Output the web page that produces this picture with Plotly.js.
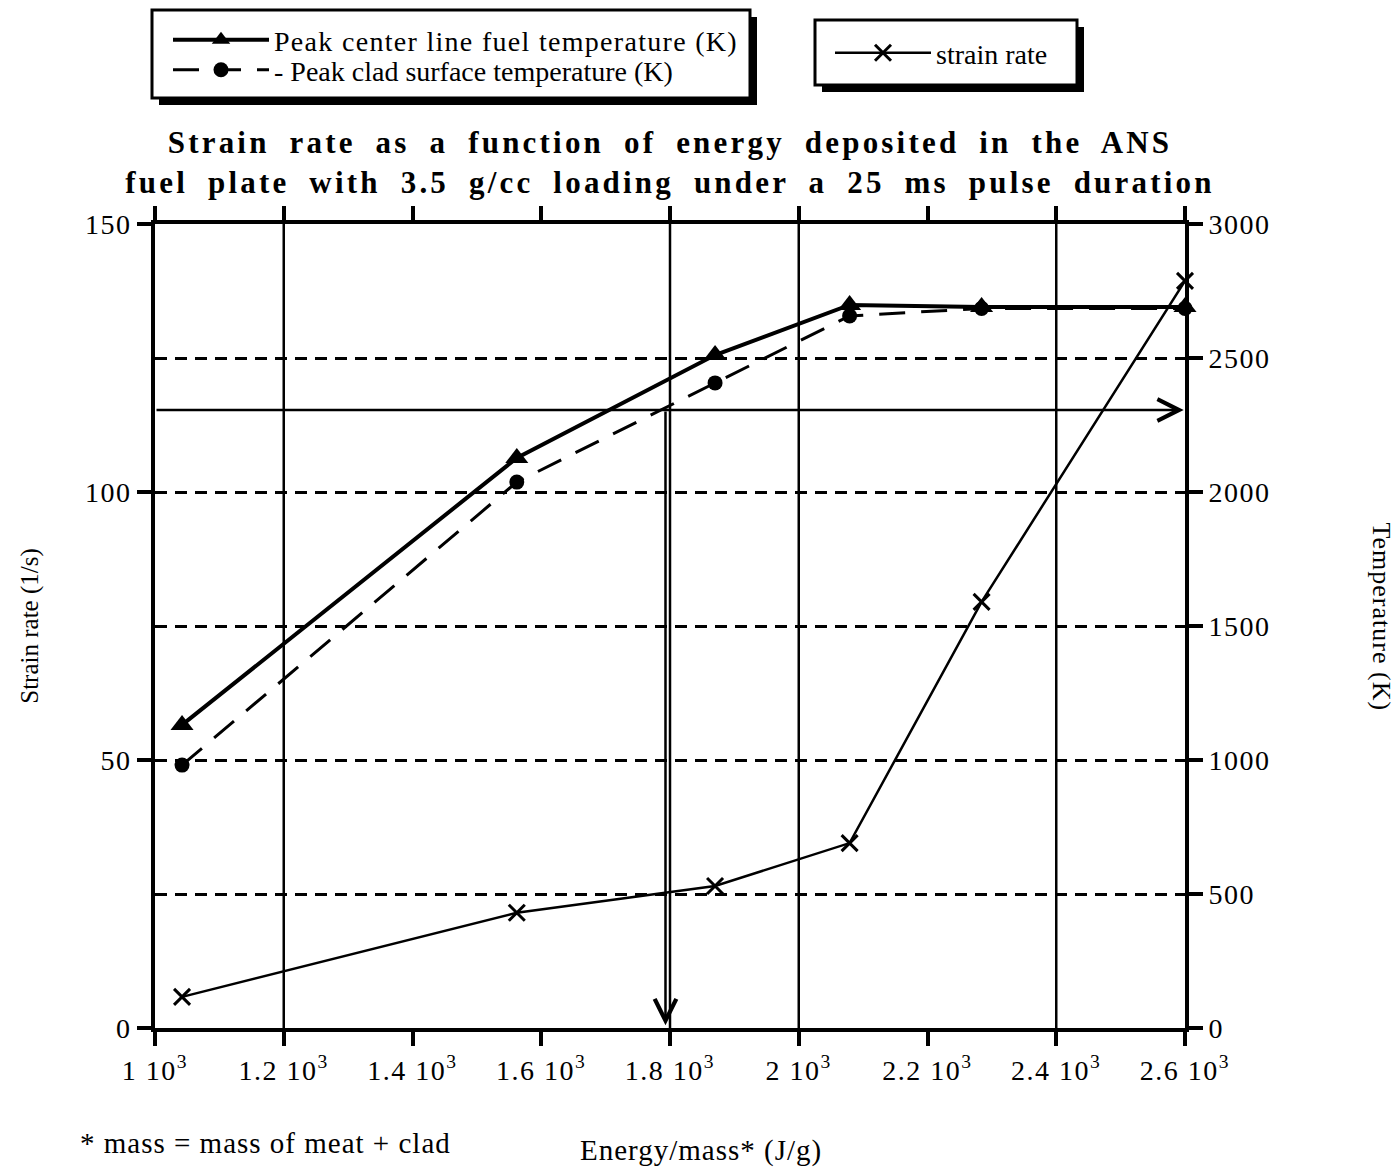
<!DOCTYPE html>
<html>
<head>
<meta charset="utf-8">
<script src="https://cdn.plot.ly/plotly-3.0.1.min.js"></script>
<style>
  html, body { margin: 0; padding: 0; background: #fff; }
  #chart { width: 1399px; height: 1169px; }
  .gtitle { letter-spacing: 3.2px; word-spacing: 9px; }
  .legendtext { letter-spacing: 1.3px; }
  .xtick text, .ytick text, .y2tick text { letter-spacing: 1.5px; }
  .annotation-text { letter-spacing: 1px; }
</style>
</head>
<body>
<div id="chart"></div>
<script>
// ---- data ----
const energy = [1042, 1562, 1870, 2079, 2284, 2600];            // J/g
const strainRate = [5.8, 21.5, 26.5, 34.5, 79.5, 139.4];         // 1/s
const centerTemp = [1131, 2127, 2511, 2698, 2690, 2690];          // K
const cladTemp = [981, 2037, 2407, 2657, 2685, 2685];             // K

const xTickVals = [1000, 1200, 1400, 1600, 1800, 2000, 2200, 2400, 2600];
const xTickText = ['1 10<sup>3</sup>', '1.2 10<sup>3</sup>', '1.4 10<sup>3</sup>', '1.6 10<sup>3</sup>',
  '1.8 10<sup>3</sup>', '2 10<sup>3</sup>', '2.2 10<sup>3</sup>', '2.4 10<sup>3</sup>', '2.6 10<sup>3</sup>'];
const yTickVals = [0, 50, 100, 150];
const y2TickVals = [0, 500, 1000, 1500, 2000, 2500, 3000];
const vGridAt = [1200, 1800, 2000, 2400];

// reading marked on the chart: energy for 2300 K (strain-axis level)
const markTempStrainLevel = 115.3;
const markEnergy = 1793;

const FONT = 'Liberation Serif, Times New Roman, serif';

// plot area in pixels (for placing the boxes drawn as shapes)
const PL = 155, PR = 1185, PT = 224, PB = 1028;
const px = v => (v - PL) / (PR - PL);
const py = v => (PB - v) / (PB - PT);

const traces = [
  {
    x: energy, y: cladTemp, yaxis: 'y2', name: '- Peak clad surface temperature (K)',
    mode: 'lines+markers', legend: 'legend3',
    line: { color: '#000', width: 3, dash: '26px,16px' },
    marker: { symbol: 'circle', size: 15, color: '#000' },
    cliponaxis: false
  },
  {
    x: energy, y: centerTemp, yaxis: 'y2', name: 'Peak center line fuel temperature (K)',
    mode: 'lines+markers', legend: 'legend',
    line: { color: '#000', width: 4 },
    marker: { symbol: 'triangle-up', size: 20, color: '#000' },
    cliponaxis: false
  },
  {
    x: energy, y: strainRate, yaxis: 'y', name: 'strain rate',
    mode: 'lines+markers', legend: 'legend2',
    line: { color: '#000', width: 2.5 },
    marker: { symbol: 'x-thin', size: 16, color: '#000', line: { color: '#000', width: 3 } },
    cliponaxis: false
  }
];

const shapes = [];
// legend boxes with drop shadows
function box(x0, y0, x1, y1, off) {
  shapes.push({ type: 'rect', xref: 'paper', yref: 'paper', layer: 'below',
    x0: px(x0 + off), x1: px(x1 + off), y0: py(y0 + off), y1: py(y1 + off),
    fillcolor: '#000', line: { width: 0 } });
  shapes.push({ type: 'rect', xref: 'paper', yref: 'paper', layer: 'below',
    x0: px(x0), x1: px(x1), y0: py(y0), y1: py(y1),
    fillcolor: '#fff', line: { color: '#000', width: 3 } });
}
box(152, 10, 750, 98, 7);
box(815, 20, 1077, 85, 7);

// selected vertical grid lines
vGridAt.forEach(v => shapes.push({
  type: 'line', xref: 'x', yref: 'paper', x0: v, x1: v, y0: 0, y1: 1,
  layer: 'below', line: { color: '#000', width: 2.5 }
}));

const annotations = [
  // horizontal reading arrow
  { xref: 'x', yref: 'y', axref: 'x', ayref: 'y', x: 2598, y: markTempStrainLevel,
    ax: 1000, ay: markTempStrainLevel, text: '', showarrow: true,
    arrowhead: 5, arrowsize: 1.7, arrowwidth: 2.5, arrowcolor: '#000' },
  // vertical reading arrow
  { xref: 'x', yref: 'y', axref: 'x', ayref: 'y', x: markEnergy, y: 0.5,
    ax: markEnergy, ay: markTempStrainLevel, text: '', showarrow: true,
    arrowhead: 5, arrowsize: 1.7, arrowwidth: 2.5, arrowcolor: '#000' },
  // right axis title
  { xref: 'paper', yref: 'paper', x: px(1398), y: py(617), text: 'Temperature (K)',
    textangle: 90, showarrow: false, font: { family: FONT, size: 26, color: '#000' } },
  // x axis title
  { xref: 'paper', yref: 'paper', x: px(701), y: py(1150), xanchor: 'center', yanchor: 'middle',
    text: 'Energy/mass* (J/g)', showarrow: false,
    font: { family: FONT, size: 29, color: '#000' } },
  // footnote
  { xref: 'paper', yref: 'paper', x: px(78), y: py(1143), xanchor: 'left', yanchor: 'middle',
    text: '* mass = mass of meat + clad', showarrow: false,
    font: { family: FONT, size: 29, color: '#000' } }
];

const legendFont = { family: FONT, size: 28, color: '#000' };
const layout = {
  width: 1399, height: 1169,
  paper_bgcolor: '#fff', plot_bgcolor: '#fff',
  margin: { l: PL, r: 1399 - PR, t: PT, b: 1169 - PB },
  font: { family: FONT, size: 26, color: '#000' },
  title: {
    text: 'Strain rate as a function of energy deposited in the ANS<br>fuel plate with 3.5 g/cc loading under a 25 ms pulse duration',
    font: { family: FONT, size: 31, weight: 'bold', color: '#000' },
    x: 0.5, xref: 'paper', xanchor: 'center',
    y: 1 - 153 / 1169, yref: 'container', yanchor: 'top'
  },
  showlegend: true,
  legend: {
    x: px(168), y: py(15), xanchor: 'left', yanchor: 'top',
    bgcolor: 'rgba(0,0,0,0)', borderwidth: 0, itemwidth: 96, font: legendFont
  },
  legend3: {
    x: px(168), y: py(45), xanchor: 'left', yanchor: 'top',
    bgcolor: 'rgba(0,0,0,0)', borderwidth: 0, itemwidth: 96, font: legendFont
  },
  legend2: {
    x: px(830), y: py(28), xanchor: 'left', yanchor: 'top',
    bgcolor: 'rgba(0,0,0,0)', borderwidth: 0, itemwidth: 96, font: legendFont
  },
  xaxis: {
    range: [1000, 2600], tickvals: xTickVals, ticktext: xTickText,
    ticks: 'outside', ticklen: 14, tickwidth: 4, tickcolor: '#000',
    showline: true, linewidth: 4, linecolor: '#000', mirror: 'ticks',
    showgrid: false, zeroline: false,
    tickfont: { family: FONT, size: 28 }
  },
  yaxis: {
    range: [0, 150], tickvals: yTickVals,
    ticks: 'outside', ticklen: 14, tickwidth: 4, tickcolor: '#000',
    showline: true, linewidth: 4, linecolor: '#000',
    showgrid: false, zeroline: false,
    tickfont: { family: FONT, size: 28 },
    title: { text: 'Strain rate (1/s)', standoff: 40, font: { family: FONT, size: 25 } }
  },
  yaxis2: {
    range: [0, 3000], tickvals: y2TickVals, overlaying: 'y', side: 'right',
    ticks: 'outside', ticklen: 14, tickwidth: 4, tickcolor: '#000',
    showline: true, linewidth: 4, linecolor: '#000',
    showgrid: true, gridcolor: '#000', gridwidth: 3, griddash: '12px,8px',
    zeroline: false,
    tickfont: { family: FONT, size: 28 }
  },
  shapes: shapes,
  annotations: annotations
};

Plotly.newPlot('chart', traces, layout, { displayModeBar: false, staticPlot: true });
</script>
</body>
</html>
